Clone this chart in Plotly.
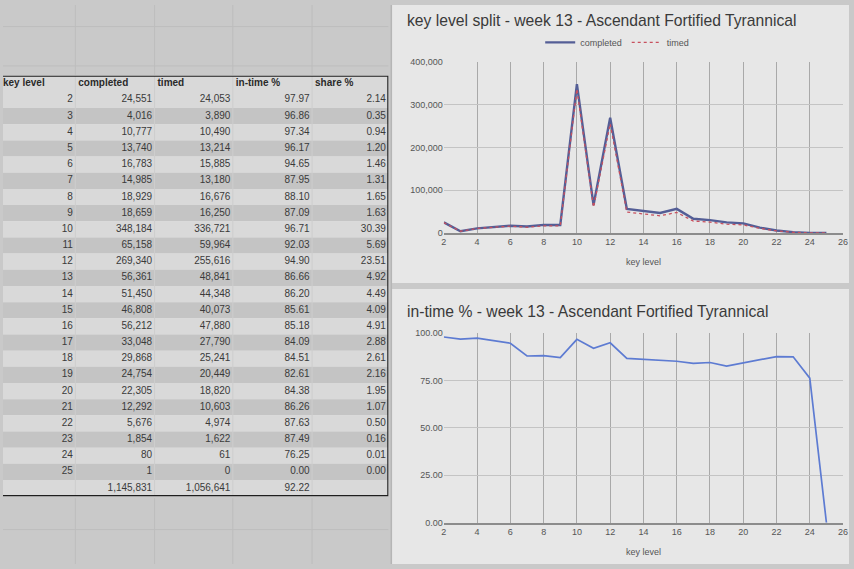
import plotly.graph_objects as go

# week 13 - Ascendant Fortified Tyrannical
key_level = list(range(2, 26))
completed = [24551, 4016, 10777, 13740, 16783, 14985, 18929, 18659, 348184, 65158, 269340, 56361,
             51450, 46808, 56212, 33048, 29868, 24754, 22305, 12292, 5676, 1854, 80, 1]
timed = [24053, 3890, 10490, 13214, 15885, 13180, 16676, 16250, 336721, 59964, 255616, 48841,
         44348, 40073, 47880, 27790, 25241, 20449, 18820, 10603, 4974, 1622, 61, 0]
in_time = [97.97, 96.86, 97.34, 96.17, 94.65, 87.95, 88.10, 87.09, 96.71, 92.03, 94.90, 86.66,
           86.20, 85.61, 85.18, 84.09, 84.51, 82.61, 84.38, 86.26, 87.63, 87.49, 76.25, 0.00]
share = [2.14, 0.35, 0.94, 1.20, 1.46, 1.31, 1.65, 1.63, 30.39, 5.69, 23.51, 4.92,
         4.49, 4.09, 4.91, 2.88, 2.61, 2.16, 1.95, 1.07, 0.50, 0.16, 0.01, 0.00]
headers = ["key level", "completed", "timed", "in-time %", "share %"]

W, H = 854, 569
FONT = "Liberation Sans, Arial, sans-serif"
panel_bg = "#e7e7e7"
sheet_bg = "#c9c9c9"
row_light = "#d9d9d9"
row_dark = "#c4c4c4"
vgrid = "#a9a9a9"
hgrid = "#c4c4c4"

def px(x):
    return x / W

def py(y):
    return 1 - y / H

total_completed = sum(completed)
total_timed = sum(timed)
total_pct = round(total_timed * 100 / total_completed, 2)

columns = [
    [str(k) for k in key_level] + [""],
    ["{:,}".format(v) for v in completed] + ["{:,}".format(total_completed)],
    ["{:,}".format(v) for v in timed] + ["{:,}".format(total_timed)],
    ["{:.2f}".format(v) for v in in_time] + ["{:.2f}".format(total_pct)],
    ["{:.2f}".format(v) for v in share] + [""],
]
n_rows = len(columns[0])
col_edges = [0, 73, 153, 232, 312, 389]  # spreadsheet column borders in px

fig = go.Figure()

# spreadsheet table drawn on its own hidden axes (row 0 = header)
header_x = [0] + [e + 3 for e in col_edges[1:-1]]
fig.add_trace(go.Scatter(x=header_x, y=[0] * len(headers), text=["<b>" + h + "</b>" for h in headers],
                         mode="text", textposition="middle right", showlegend=False, hoverinfo="skip",
                         cliponaxis=False, textfont=dict(family=FONT, size=10, color="#2a2a2a"),
                         xaxis="x3", yaxis="y3"))
rows = list(range(1, n_rows + 1))
for i, col in enumerate(columns):
    fig.add_trace(go.Scatter(x=[col_edges[i + 1] - 2.5] * n_rows, y=rows, text=col, mode="text",
                             textposition="middle left", showlegend=False, hoverinfo="skip",
                             cliponaxis=False, textfont=dict(family=FONT, size=10, color="#3a3a3a"),
                             xaxis="x3", yaxis="y3"))

# top chart: completed vs timed
fig.add_trace(go.Scatter(x=key_level, y=completed, name="completed", mode="lines",
                         line=dict(color="#545e96", width=2.4), xaxis="x", yaxis="y"))
fig.add_trace(go.Scatter(x=key_level, y=timed, name="timed", mode="lines",
                         line=dict(color="#c8505e", width=1.3, dash="dot"), xaxis="x", yaxis="y"))

# bottom chart: in-time %
fig.add_trace(go.Scatter(x=key_level, y=in_time, name="in-time %", mode="lines", showlegend=False,
                         line=dict(color="#5d7bd2", width=1.7), xaxis="x2", yaxis="y2"))

tick_font = dict(family=FONT, size=9, color="#555555")
xcommon = dict(range=[2, 26], tickmode="linear", tick0=2, dtick=2, showgrid=True, gridcolor=vgrid,
               gridwidth=1, showline=True, linecolor="#8c8c8c", linewidth=1.5, zeroline=False,
               tickfont=tick_font, ticks="", fixedrange=True,
               title=dict(text="key level", font=dict(family=FONT, size=9, color="#555555"), standoff=12))
ycommon = dict(showgrid=True, gridcolor=hgrid, gridwidth=1, zeroline=False, ticks="",
               tickfont=tick_font, fixedrange=True)

shapes = [
    # chart panels
    dict(type="rect", xref="paper", yref="paper", x0=px(392), x1=1, y0=py(283), y1=1,
         fillcolor=panel_bg, line=dict(width=0), layer="below"),
    dict(type="rect", xref="paper", yref="paper", x0=px(392), x1=1, y0=0, y1=py(289),
         fillcolor=panel_bg, line=dict(width=0), layer="below"),
    dict(type="line", xref="paper", yref="paper", x0=px(392), x1=px(392), y0=0, y1=1,
         line=dict(color="#b5b5b5", width=1.5), layer="below"),
]
# faint sheet gridlines outside the table
for gx in col_edges[1:-1]:
    shapes.append(dict(type="line", xref="paper", yref="paper", x0=px(gx), x1=px(gx), y0=py(0), y1=py(71),
                       line=dict(color="#bdbdbd", width=1), layer="below"))
    shapes.append(dict(type="line", xref="paper", yref="paper", x0=px(gx), x1=px(gx), y0=py(502), y1=0,
                       line=dict(color="#bdbdbd", width=1), layer="below"))
for gy in [22, 62, 534]:
    shapes.append(dict(type="line", xref="paper", yref="paper", x0=0, x1=px(389), y0=py(gy), y1=py(gy),
                       line=dict(color="#bdbdbd", width=1), layer="below"))
# table row fills: header light, then data rows alternate starting light
for r in range(n_rows + 1):
    light = r == 0 or (r - 1) % 2 == 0
    shapes.append(dict(type="rect", xref="x3", yref="y3", x0=-5, x1=col_edges[-1], y0=r - 0.5, y1=r + 0.5,
                       fillcolor=row_light if light else row_dark, line=dict(width=0), layer="below"))
for gx in col_edges[1:-1]:
    shapes.append(dict(type="line", xref="x3", yref="y3", x0=gx, x1=gx, y0=-0.5, y1=n_rows + 0.5,
                       line=dict(color="#cdcdcd", width=1), layer="below"))
# table border
shapes.append(dict(type="rect", xref="x3", yref="y3", x0=-5, x1=col_edges[-1], y0=-0.5, y1=n_rows + 0.5,
                   line=dict(color="#1e1e1e", width=2.2)))

annotations = [
    dict(text="key level split - week 13 - Ascendant Fortified Tyrannical", xref="paper", yref="paper",
         x=px(406), y=py(16), xanchor="left", yanchor="middle", showarrow=False,
         font=dict(family=FONT, size=15.7, color="#3a3a3a")),
    dict(text="in-time % - week 13 - Ascendant Fortified Tyrannical", xref="paper", yref="paper",
         x=px(406), y=py(312), xanchor="left", yanchor="middle", showarrow=False,
         font=dict(family=FONT, size=15.7, color="#3a3a3a")),
]

fig.update_layout(
    autosize=True,
    margin=dict(l=0, r=0, t=0, b=0),
    paper_bgcolor=sheet_bg,
    plot_bgcolor=panel_bg,
    font=dict(family=FONT),
    xaxis=dict(domain=[px(445), px(848)], anchor="y", **xcommon),
    yaxis=dict(domain=[py(232), py(58)], anchor="x", range=[0, 400000], dtick=100000,
               tickformat=",d", **ycommon),
    xaxis2=dict(domain=[px(445), px(848)], anchor="y2", **xcommon),
    yaxis2=dict(domain=[py(527), py(334)], anchor="x2", range=[0, 100], dtick=25,
                tickformat=".2f", **ycommon),
    xaxis3=dict(domain=[0, px(389)], anchor="y3", range=[0, col_edges[-1]], visible=False, fixedrange=True),
    yaxis3=dict(domain=[py(500), py(72)], anchor="x3", range=[n_rows + 0.5, -0.5], visible=False,
                fixedrange=True),
    legend=dict(orientation="h", x=px(620), xanchor="center", y=py(38), yanchor="middle",
                font=dict(family=FONT, size=9, color="#555555"), bgcolor="rgba(0,0,0,0)", itemwidth=30),
    shapes=shapes,
    annotations=annotations,
)

# fill the whole browser window (no body margin, no scrollbars)
fig.write_html("out.html", config={"displayModeBar": False, "responsive": True},
               default_width="100vw", default_height="100vh",
               post_script="document.body.style.margin='0';document.body.style.overflow='hidden';")
